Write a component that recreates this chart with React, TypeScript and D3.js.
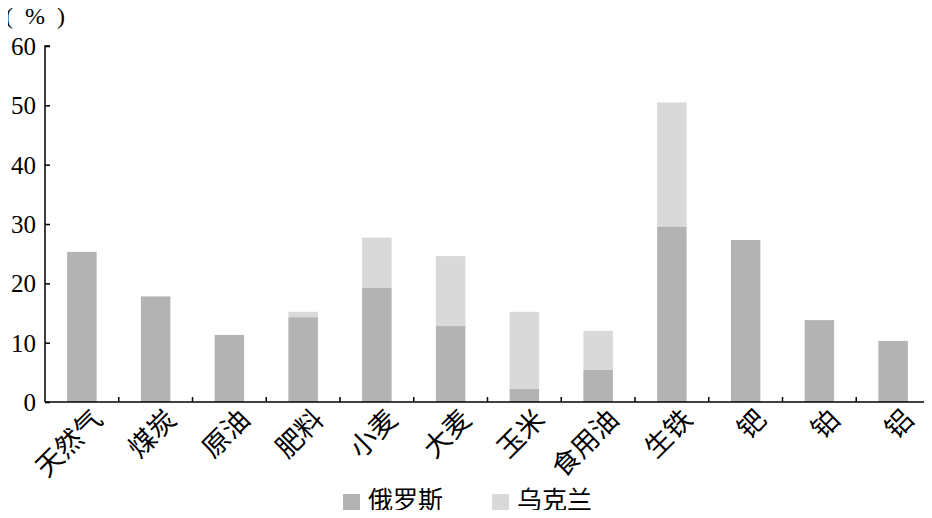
import React, { useRef, useEffect } from "react";
import * as d3 from "d3";

// categories and shares (%)
const categories = ["天然气", "煤炭", "原油", "肥料", "小麦", "大麦", "玉米", "食用油", "生铁", "钯", "铂", "铝"];
const russia = [25.3, 17.8, 11.3, 14.3, 19.3, 12.8, 2.2, 5.4, 29.6, 27.3, 13.8, 10.3];
const ukraine = [0, 0, 0, 0.9, 8.4, 11.8, 13.0, 6.6, 20.9, 0, 0, 0];
const seriesNames = ["俄罗斯", "乌克兰"];
const colors = ["#b3b3b3", "#d9d9d9"];
const yTicks = [0, 10, 20, 30, 40, 50, 60];

const App: React.FC = () => {
  const svgRef = useRef<SVGSVGElement | null>(null);

  useEffect(() => {
    const width = 932;
    const height = 518;
    const margin = { top: 46, right: 2, bottom: 116, left: 45 };
    const cjk = "'Noto Sans CJK SC', sans-serif";
    const serif = "'Liberation Serif', 'Times New Roman', serif";

    const svg = d3.select(svgRef.current).attr("width", width).attr("height", height);
    svg.selectAll("*").remove();

    const x = d3
      .scaleBand<string>()
      .domain(categories)
      .range([margin.left, width - margin.right])
      .paddingInner(0.6)
      .paddingOuter(0.3);

    const y = d3.scaleLinear().domain([0, 60]).range([height - margin.bottom, margin.top]);

    const rows = categories.map((c, i) => ({ cat: c, r: russia[i], u: ukraine[i] }));
    const stack = d3.stack<any>().keys(["r", "u"])(rows);

    const g = svg.append("g");
    stack.forEach((layer, li) => {
      g.selectAll(`.bar${li}`)
        .data(layer)
        .join("rect")
        .attr("x", (d: any) => x(d.data.cat) as number)
        .attr("width", x.bandwidth())
        .attr("y", (d: any) => y(d[1]))
        .attr("height", (d: any) => y(d[0]) - y(d[1]))
        .attr("fill", colors[li]);
    });

    // y axis, ticks pointing inward
    const yAxis = svg
      .append("g")
      .attr("transform", `translate(${margin.left},0)`)
      .call(d3.axisRight(y).tickValues(yTicks).tickSize(5).tickFormat(d3.format("d")));
    yAxis.select(".domain").attr("stroke", "#000").attr("stroke-width", 1.5).attr("d", `M5,${y(60)}H0V${y(0)}`);
    yAxis.selectAll(".tick line").attr("stroke", "#000").attr("stroke-width", 1.5);
    yAxis
      .selectAll(".tick text")
      .attr("x", -9)
      .attr("dy", "0.34em")
      .attr("text-anchor", "end")
      .style("font-family", serif)
      .style("font-size", "25px")
      .attr("fill", "#000");

    // x axis with ticks between categories
    const xg = svg.append("g");
    xg.append("line")
      .attr("x1", margin.left)
      .attr("x2", width - margin.right)
      .attr("y1", y(0))
      .attr("y2", y(0))
      .attr("stroke", "#000")
      .attr("stroke-width", 1.5);
    const bx = categories.map((c) => (x(c) as number) + x.bandwidth() / 2);
    const tickXs = bx.map((v, i) => (i < bx.length - 1 ? (v + bx[i + 1]) / 2 : width - margin.right - 1));
    xg.selectAll(".xt")
      .data(tickXs)
      .join("line")
      .attr("x1", (d) => d)
      .attr("x2", (d) => d)
      .attr("y1", y(0))
      .attr("y2", y(0) - 5)
      .attr("stroke", "#000")
      .attr("stroke-width", 1.5);

    xg.selectAll(".xl")
      .data(categories)
      .join("text")
      .attr("transform", (d) => `translate(${(x(d) as number) + x.bandwidth() / 2 + 7},${y(0) + 4}) rotate(-45)`)
      .attr("text-anchor", "end")
      .attr("dy", "0.8em")
      .style("font-family", cjk)
      .style("font-size", "27px")
      .attr("fill", "#000")
      .text((d) => d);

    // unit
    svg
      .append("text")
      .attr("x", 5)
      .attr("y", 24)
      .style("font-family", serif)
      .style("font-size", "24px")
      .style("white-space", "pre")
      .attr("fill", "#000")
      .text("(  %  )");

    // legend
    const legendX = [343, 492];
    const lg = svg.append("g");
    seriesNames.forEach((name, i) => {
      lg.append("rect")
        .attr("x", legendX[i])
        .attr("y", 494)
        .attr("width", 17)
        .attr("height", 17)
        .attr("fill", colors[i]);
      lg.append("text")
        .attr("x", legendX[i] + 25)
        .attr("y", 509)
        .style("font-family", cjk)
        .style("font-size", "25px")
        .attr("fill", "#000")
        .text(name);
    });
  }, []);

  return (
    <div style={{ margin: -8 }}>
      <svg ref={svgRef} style={{ display: "block", background: "#fff" }}></svg>
    </div>
  );
};

export default App;
